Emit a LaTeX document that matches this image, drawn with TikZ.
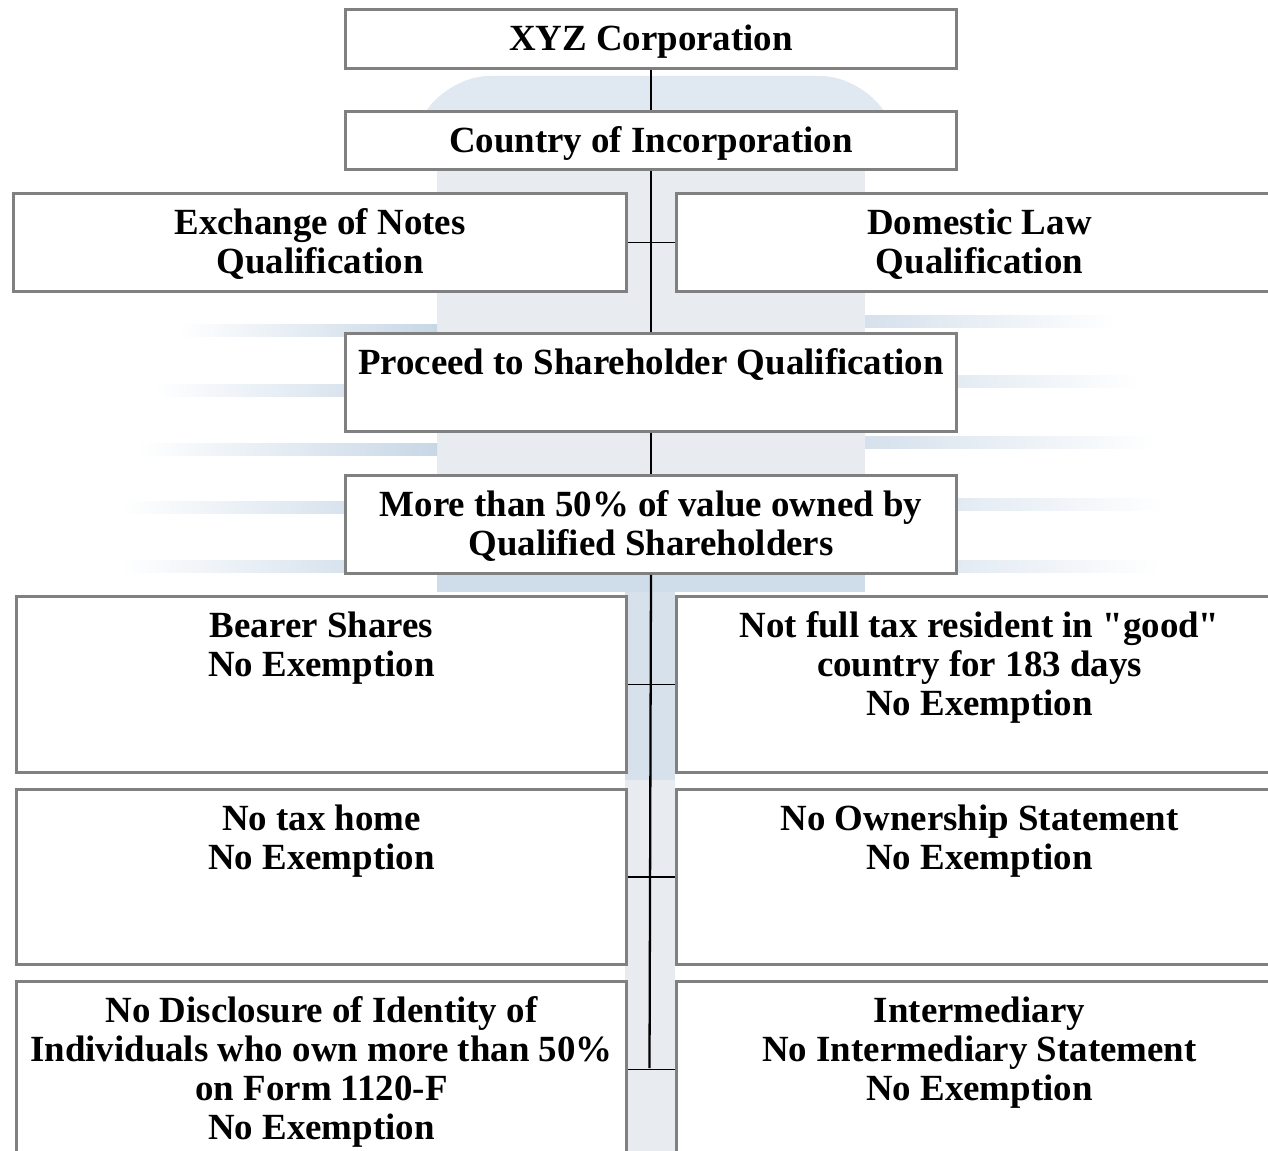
\documentclass[tikz,border=0pt]{standalone}
\usepackage{fontspec}
\setmainfont{Liberation Serif}[Ligatures=TeXOff]
\definecolor{boxgray}{RGB}{128,128,128}
\definecolor{haze}{RGB}{186,205,224}
\definecolor{mist}{RGB}{232,235,240}
\newdimen\pix \pix=0.02cm
\newcommand{\boxtext}[3]{\parbox[c][#2\pix][t]{#1\pix}{\centering\vspace*{7.8pt}\strut#3\par}}
\begin{document}
\begin{tikzpicture}[x=0.02cm,y=-0.02cm,
  box/.style={draw=boxgray,line width=1.7pt,fill=white,inner sep=0pt,anchor=north west,
    font=\fontsize{21}{22.2}\selectfont\bfseries},
  link/.style={line width=1.3pt},
  tick/.style={line width=0.8pt}]
\useasboundingbox (0,0) rectangle (1268,1151);
\clip (0,0) rectangle (1268,1151);
\fill[white] (0,0) rectangle (1268,1151);
% faint backdrop
\fill[mist] (437,150) rectangle (865,590);
\fill[haze!45,rounded corners=25] (445,76) -- (865,76) -- (905,150) -- (405,150) -- cycle;
\foreach \y/\a in {331/178,391/154,450/137,508/121,567/121}
  \fill[left color=white,right color=haze!80] (\a,\y-6) rectangle (437,\y+6);
\foreach \y/\b in {322/1116,382/1140,443/1157,505/1165,567/1160}
  \fill[left color=haze!60,right color=white] (865,\y-6) rectangle (\b,\y+6);
\fill[haze!70] (437,574) rectangle (865,592);
\fill[haze!60] (625,592) rectangle (675,780);
\fill[mist] (625,780) rectangle (675,1151);

\node[box] (xyz) at (344,8) {\boxtext{611}{59}{XYZ Corporation}};
\node[box] (country) at (344,110) {\boxtext{611}{58}{Country of Incorporation}};
\node[box] (notes) at (12,192) {\boxtext{613}{98}{Exchange of Notes\\Qualification}};
\node[box] (domestic) at (675,192) {\boxtext{606}{98}{Domestic Law\\Qualification}};
\node[box] (proceed) at (344,332) {\boxtext{611}{98}{Proceed to Shareholder Qualification}};
\node[box] (majority) at (344,474) {\boxtext{611}{98}{More than 50\% of value owned by\\Qualified Shareholders}};
\node[box] (bearer) at (15,595) {\boxtext{610}{176}{Bearer Shares\\No Exemption}};
\node[box] (resident) at (675,595) {\boxtext{606}{176}{Not full tax resident in "good"\\country for 183 days\\No Exemption}};
\node[box] (taxhome) at (15,788) {\boxtext{610}{175}{No tax home\\No Exemption}};
\node[box] (ownership) at (675,788) {\boxtext{606}{175}{No Ownership Statement\\No Exemption}};
\node[box] (disclosure) at (15,980) {\boxtext{610}{176}{No Disclosure of Identity of\\Individuals who own more than 50\%\\on Form 1120-F\\No Exemption}};
\node[box] (intermediary) at (675,980) {\boxtext{606}{176}{Intermediary\\No Intermediary Statement\\No Exemption}};
\coordinate (foot) at (649.5,1068);

\draw[link] (xyz.south) -- (country.north);
\draw[link] (country.south) -- (proceed.north);
\draw[link] (proceed.south) -- (majority.north);
\draw[link] (majority.south) -- (foot);
\draw[tick] (notes.east) -- (domestic.west);
\draw[tick] (bearer.east) -- (resident.west);
\draw[tick] (taxhome.east) -- (ownership.west);
\draw[tick] (disclosure.east) -- (intermediary.west);
\end{tikzpicture}
\end{document}
